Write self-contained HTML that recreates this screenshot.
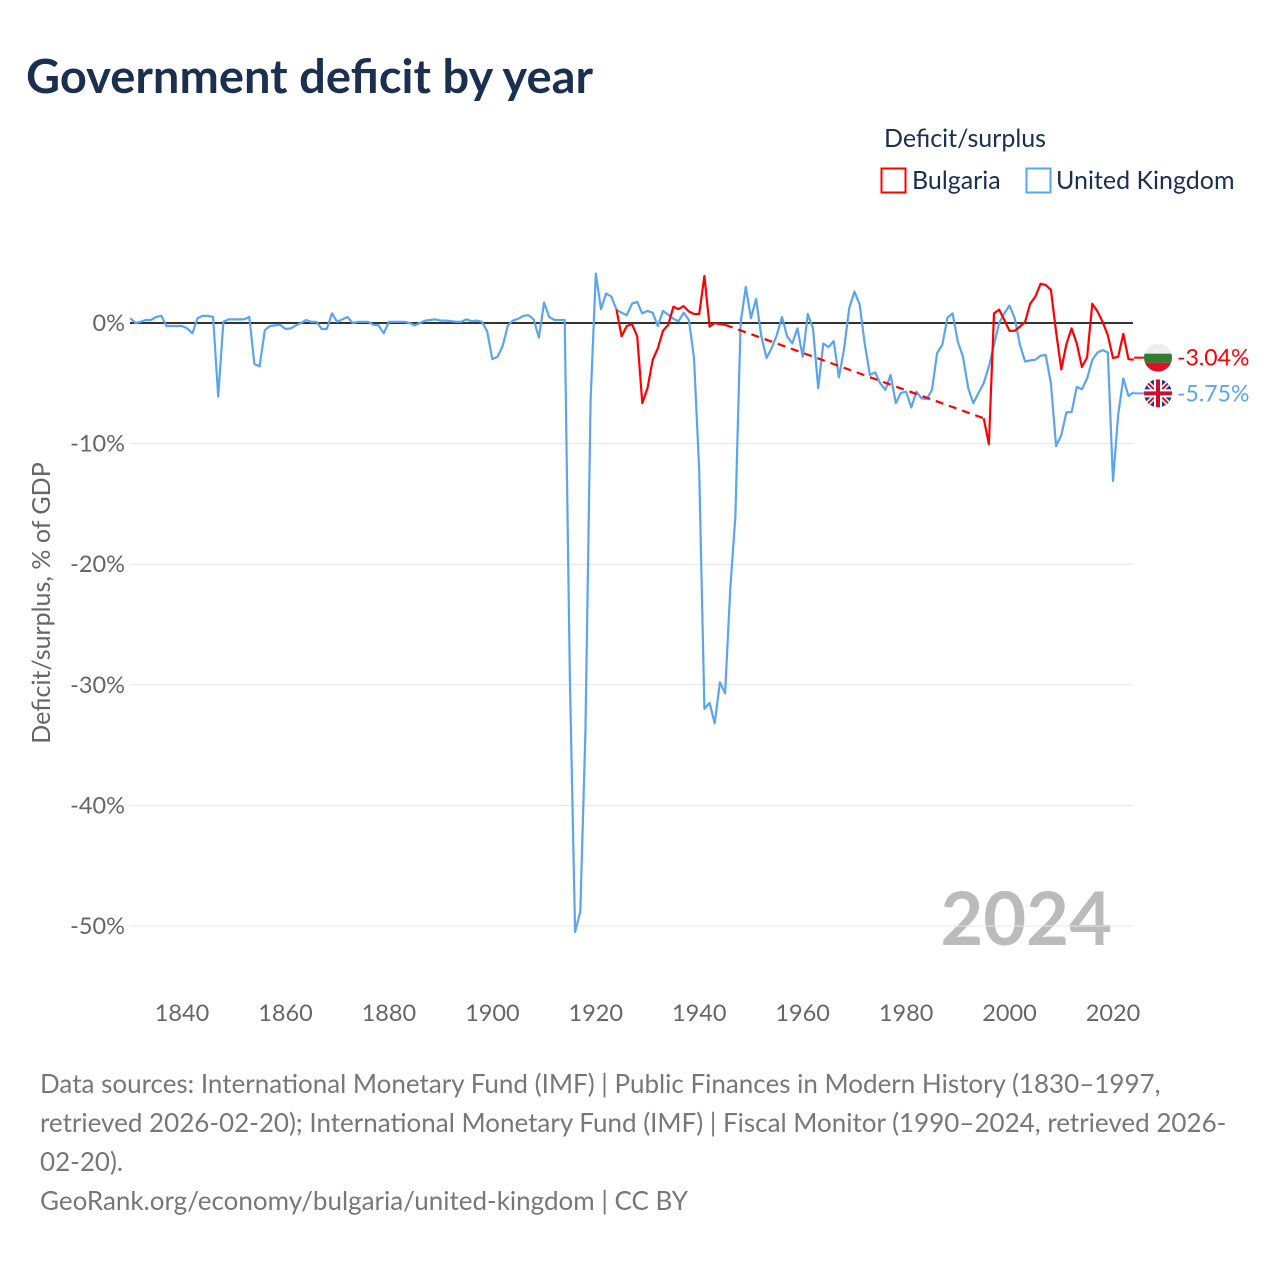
<!DOCTYPE html>
<html><head><meta charset="utf-8"><style>
body{margin:0;background:#fff;font-family:"Liberation Sans",sans-serif}
svg text{font-family:"Lato","Liberation Sans",sans-serif}
</style></head><body>
<svg id="c" width="1280" height="1280" xmlns="http://www.w3.org/2000/svg">
<text x="26" y="93" font-size="47" font-weight="bold" fill="#1b2f4e" textLength="567">Government deficit by year</text>
<text x="965" y="147" font-size="25" fill="#1b2f4e" text-anchor="middle">Deficit/surplus</text>
<g><rect x="881.5" y="168.5" width="24" height="24" fill="none" stroke="#f00" stroke-width="2"/><text x="912" y="189" font-size="25" fill="#1b2f4e">Bulgaria</text></g>
<g><rect x="1026.5" y="168.5" width="24" height="24" fill="none" stroke="#5ba4ee" stroke-width="2"/><text x="1056" y="189" font-size="25" fill="#1b2f4e">United Kingdom</text></g>
<text transform="translate(50,603) rotate(-90)" font-size="25" fill="#666" text-anchor="middle">Deficit/surplus, % of GDP</text>
<text x="1112" y="945" font-size="74" font-weight="bold" fill="#bbb" text-anchor="end">2024</text>
<g id="grid"></g><g id="series"></g><g id="xt"></g>
<g font-size="26" fill="#777">
<text x="40" y="1093">Data sources: International Monetary Fund (IMF) | Public Finances in Modern History (1830–1997,</text>
<text x="40" y="1132">retrieved 2026-02-20); International Monetary Fund (IMF) | Fiscal Monitor (1990–2024, retrieved 2026-</text>
<text x="40" y="1171">02-20).</text>
<text x="40" y="1210">GeoRank.org/economy/bulgaria/united-kingdom | CC BY</text>
</g>
</svg>
<script>
const ukYears0 = 1830;
const ukValues = [0.4,0,0.1,0.25,0.25,0.5,0.6,-0.25,-0.25,-0.25,-0.25,-0.45,-0.85,0.4,0.6,0.6,0.5,-6.1,0.1,0.3,0.3,0.3,0.3,0.5,-3.4,-3.6,-0.6,-0.25,-0.2,-0.15,-0.5,-0.45,-0.2,0,0.25,0.1,0.1,-0.5,-0.5,0.8,0.1,0.3,0.5,0,0.1,0.1,0.1,-0.15,-0.2,-0.85,0.1,0.1,0.1,0.1,0,-0.2,0,0.2,0.25,0.3,0.2,0.2,0.15,0.1,0.1,0.3,0.15,0.2,0.1,-0.7,-3.0,-2.8,-1.9,-0.2,0.2,0.35,0.6,0.65,0.3,-1.2,1.7,0.5,0.25,0.25,0.25,-29.6,-50.5,-48.8,-34,-6.4,4.1,1.15,2.45,2.2,1.1,0.85,0.65,1.6,1.75,0.8,1.0,0.85,-0.25,1.0,0.7,0.35,0.15,0.85,0.25,-2.9,-12.2,-32,-31.5,-33.2,-29.8,-30.7,-22,-16,0,3.0,0.4,2.0,-1.1,-2.9,-2.1,-1.0,0.5,-1.1,-1.7,-0.45,-2.8,0.75,-0.45,-5.4,-1.7,-2.0,-1.5,-4.5,-2.2,1.2,2.6,1.55,-1.7,-4.3,-4.1,-5.0,-5.55,-4.3,-6.65,-5.8,-5.7,-7.0,-5.7,-6.25,-6.3,-5.55,-2.5,-1.8,0.45,0.8,-1.55,-2.8,-5.4,-6.65,-5.8,-5.0,-3.6,-1.8,0,0.8,1.45,0.4,-1.8,-3.2,-3.1,-3.05,-2.7,-2.65,-5.0,-10.2,-9.3,-7.4,-7.4,-5.3,-5.5,-4.6,-3.05,-2.45,-2.25,-2.45,-13.1,-7.6,-4.6,-6.05,-5.75];
const bgYears1 = [1924,1925,1926,1927,1928,1929,1930,1931,1932,1933,1934,1935,1936,1937,1938,1939,1940,1941,1942,1943,1944,1945];
const bgValues1 = [1.1,-1.1,-0.25,-0.1,-1.1,-6.65,-5.4,-3.05,-2.1,-0.65,-0.15,1.35,1.15,1.4,0.95,0.75,0.75,3.9,-0.3,0,-0.1,-0.15];
const bgYears2 = [1995,1996,1997,1998,1999,2000,2001,2002,2003,2004,2005,2006,2007,2008,2009,2010,2011,2012,2013,2014,2015,2016,2017,2018,2019,2020,2021,2022,2023,2024];
const bgValues2 = [-7.9,-10.05,0.8,1.1,0.25,-0.65,-0.65,-0.3,0.1,1.6,2.2,3.25,3.15,2.75,-0.75,-3.85,-1.75,-0.45,-1.7,-3.65,-2.85,1.6,0.95,0.1,-1.0,-2.9,-2.8,-0.9,-3.0,-3.04];
const yTicks = [0,-10,-20,-30,-40,-50];
const xTicks = [1840,1860,1880,1900,1920,1940,1960,1980,2000,2020];
const NS="http://www.w3.org/2000/svg";
const X = y => 130.3 + (y-1830)*5.172;
const Y = v => 323 - v*12.06;
function mk(t,a,p){const e=document.createElementNS(NS,t);for(const k in a)e.setAttribute(k,a[k]);p.appendChild(e);return e;}
const grid=document.getElementById('grid'), ser=document.getElementById('series'), xt=document.getElementById('xt');
yTicks.forEach(v=>{
  const l=mk('line',{x1:130,x2:1133,y1:Y(v),y2:Y(v),stroke:v===0?'#333':'#e6e6e6','stroke-width':v===0?2:1},grid);
  
  
  const t=mk('text',{x:125,y:Y(v)+8,'font-size':23.5,fill:'#666','text-anchor':'end'},grid);
  t.textContent=v+'%';
  
  
});
xTicks.forEach(yr=>{
  const t=mk('text',{x:X(yr),y:1021,'font-size':23.5,fill:'#666','text-anchor':'middle'},xt);
  t.textContent=yr;
  
  
});
function path(xs,vs){return xs.map((x,i)=>(i?'L':'M')+X(x).toFixed(1)+','+Y(vs[i]).toFixed(1)).join('');}
const ukYears=ukValues.map((v,i)=>ukYears0+i);
const uk=mk('path',{d:path(ukYears,ukValues),fill:'none',stroke:'#5ba4ee','stroke-width':2.2,'stroke-linejoin':'round'},ser);


const b1=mk('path',{d:path(bgYears1,bgValues1),fill:'none',stroke:'#f00','stroke-width':2.2,'stroke-linejoin':'round'},ser);


const gx=[bgYears1[bgYears1.length-1],bgYears2[0]], gv=[bgValues1[bgValues1.length-1],bgValues2[0]];
const bg=mk('path',{d:path(gx,gv),fill:'none',stroke:'#f00','stroke-width':2.2,'stroke-dasharray':'8,6'},ser);


const b2=mk('path',{d:path(bgYears2,bgValues2),fill:'none',stroke:'#f00','stroke-width':2.2,'stroke-linejoin':'round'},ser);


const bgEnd=bgValues2[bgValues2.length-1], ukEnd=ukValues[ukValues.length-1];
function flag(cy,kind,val,col){
  const g=mk('g',{},ser);
  
  
  const cx=1158;
  mk('line',{x1:1134,x2:1144,y1:cy,y2:cy,stroke:col,'stroke-width':2},g);
  const cp='cp'+kind;
  const d=mk('clipPath',{id:cp},g); mk('circle',{cx:cx,cy:cy,r:14},d);
  const f=mk('g',{'clip-path':'url(#'+cp+')'},g);
  if(kind==='bulgaria'){
    mk('rect',{x:cx-14,y:cy-14,width:28,height:10,fill:'#eee'},f);
    mk('rect',{x:cx-14,y:cy-4,width:28,height:9,fill:'#2e7d32'},f);
    mk('rect',{x:cx-14,y:cy+5,width:28,height:10,fill:'#e0102a'},f);
  } else {
    mk('rect',{x:cx-14,y:cy-14,width:28,height:28,fill:'#1e3a8a'},f);
    mk('path',{d:`M${cx-14},${cy-14}L${cx+14},${cy+14}M${cx+14},${cy-14}L${cx-14},${cy+14}`,stroke:'#fff','stroke-width':5},f);
    mk('path',{d:`M${cx-14},${cy-14}L${cx+14},${cy+14}M${cx+14},${cy-14}L${cx-14},${cy+14}`,stroke:'#c8102e','stroke-width':2},f);
    mk('path',{d:`M${cx},${cy-14}V${cy+14}M${cx-14},${cy}H${cx+14}`,stroke:'#fff','stroke-width':8},f);
    mk('path',{d:`M${cx},${cy-14}V${cy+14}M${cx-14},${cy}H${cx+14}`,stroke:'#c8102e','stroke-width':4},f);
  }
  const t=mk('text',{x:1177,y:cy+8,'font-size':23,fill:col},g);
  t.textContent=val.toFixed(2)+'%';
}
flag(Y(bgEnd)-2,'bulgaria',bgEnd,'#f00');
flag(Y(ukEnd)+1,'uk',ukEnd,'#5ba4ee');
</script>
</body></html>
